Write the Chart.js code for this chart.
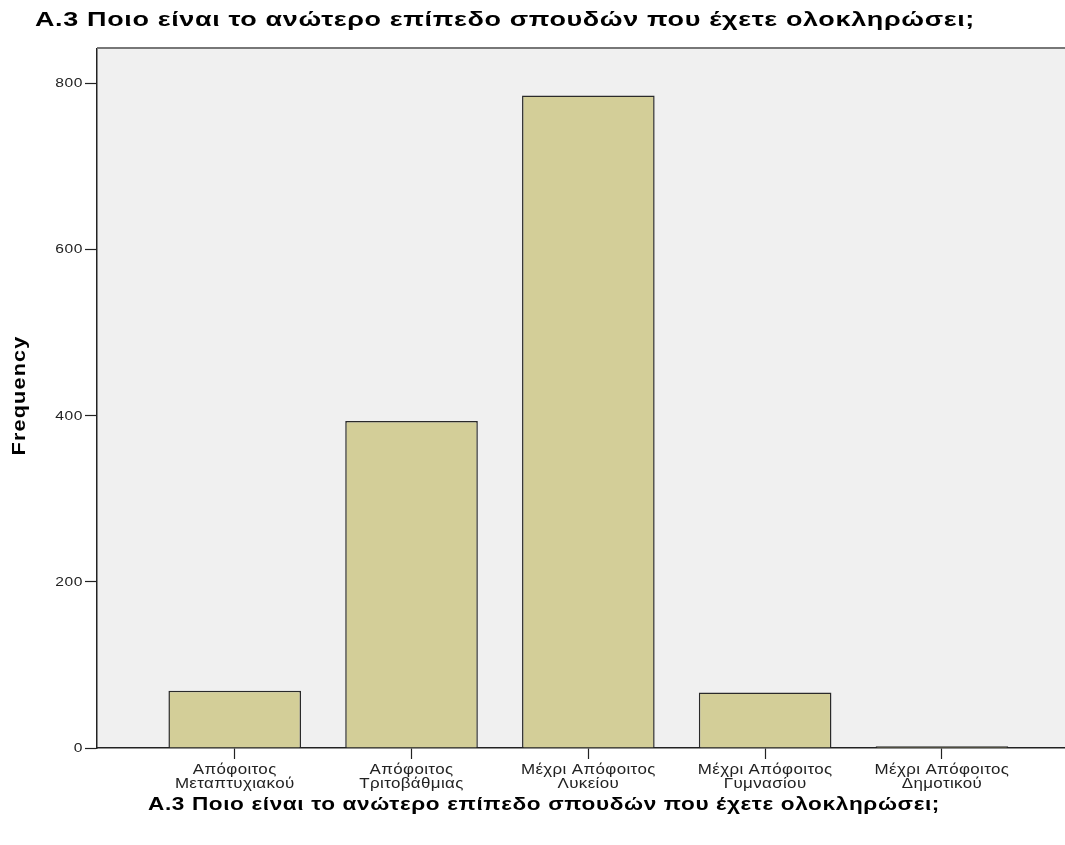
<!DOCTYPE html>
<html><head><meta charset="utf-8">
<script src="https://cdn.jsdelivr.net/npm/chart.js@4.4.0/dist/chart.umd.min.js"></script>
<style>html,body{margin:0;padding:0;background:#fff}#wrap{width:1065px;height:845px;position:relative}</style>
</head><body><div id="wrap"><canvas id="c"></canvas></div>
<script>
const chartTitle = 'Α.3 Ποιο είναι το ανώτερο επίπεδο σπουδών που έχετε ολοκληρώσει;';
const categories = [
  ['Απόφοιτος', 'Μεταπτυχιακού'],
  ['Απόφοιτος', 'Τριτοβάθμιας'],
  ['Μέχρι Απόφοιτος', 'Λυκείου'],
  ['Μέχρι Απόφοιτος', 'Γυμνασίου'],
  ['Μέχρι Απόφοιτος', 'Δημοτικού']
];
const frequencies = [69, 394, 786, 67, 2];
const yTicks = [0, 200, 400, 600, 800];
const yAxisTitle = 'Frequency';

const FONT = '"Liberation Sans", Arial, sans-serif';
Chart.defaults.font.family = FONT;

// draws text widened along its direction (the reference uses a wide-set face)
function wideText(ctx, text, x, y, align, opt) {
  ctx.save();
  ctx.font = opt.font;
  ctx.letterSpacing = (opt.ls || 0) + 'px';
  let sx = opt.sx || 1;
  if (opt.width) sx = opt.width / ctx.measureText(text).width;
  ctx.translate(x, y);
  if (opt.rot) ctx.rotate(opt.rot);
  ctx.scale(sx, 1);
  ctx.textAlign = align;
  ctx.fillText(text, 0, 0);
  ctx.restore();
}

const frame = {
  id: 'frame',
  beforeDraw(chart) {
    const {ctx, chartArea: a} = chart;
    ctx.save();
    ctx.fillStyle = '#f0f0f0';
    ctx.fillRect(a.left, a.top, a.right - a.left, a.bottom - a.top);
    ctx.restore();
  },
  afterDraw(chart) {
    const {ctx, chartArea: a} = chart;
    const xs = chart.scales.x, ys = chart.scales.y;
    ctx.save();
    ctx.strokeStyle = '#777';
    ctx.lineWidth = 2;
    ctx.beginPath();
    ctx.moveTo(a.left, a.top - 1);
    ctx.lineTo(a.right, a.top - 1);
    ctx.stroke();

    ctx.textBaseline = 'middle';
    ctx.fillStyle = '#000';
    wideText(ctx, chartTitle, 35, 20, 'left', {font: 'bold 21px ' + FONT, ls: 0.5, width: 940});
    wideText(ctx, chartTitle, 544, 805, 'center', {font: 'bold 18px ' + FONT, ls: 0.5, width: 792});
    wideText(ctx, yAxisTitle, 20, (a.top + a.bottom) / 2 - 3, 'center',
             {font: 'bold 18px ' + FONT, ls: 1, width: 120, rot: -Math.PI / 2});

    ctx.fillStyle = '#222';
    categories.forEach((lines, i) => {
      const px = xs.getPixelForValue(i + 1);
      lines.forEach((t, j) => wideText(ctx, t, px, 770 + j * 14, 'center',
                                       {font: '14px ' + FONT, ls: 0.3, sx: 1.21}));
    });
    yTicks.forEach(v => {
      wideText(ctx, String(v), a.left - 14, ys.getPixelForValue(v), 'right',
               {font: '13px ' + FONT, ls: 0.5, sx: 1.2});
    });
    ctx.restore();
  }
};

new Chart(document.getElementById('c'), {
  type: 'bar',
  data: {
    datasets: [{
      data: frequencies.map((v, i) => ({x: i + 1, y: v})),
      backgroundColor: '#d3ce98',
      borderColor: '#2a2a2a',
      borderWidth: 1.5,
      categoryPercentage: 1,
      barPercentage: 0.75
    }]
  },
  options: {
    responsive: true,
    maintainAspectRatio: false,
    animation: false,
    layout: {padding: {top: 49, left: 0, right: 0, bottom: 0}},
    plugins: {legend: {display: false}, tooltip: {enabled: false}},
    scales: {
      x: {
        type: 'linear',
        offset: false,
        min: 0.221,
        max: 5.696,
        afterBuildTicks(scale) { scale.ticks = categories.map((c, i) => ({value: i + 1})); },
        afterFit(scale) { scale.height = 97; },
        ticks: {display: false},
        grid: {offset: false, drawOnChartArea: false, tickLength: 11, tickColor: '#222', tickWidth: 1.2},
        border: {color: '#222', width: 1.5}
      },
      y: {
        min: 0,
        max: 842,
        afterBuildTicks(scale) { scale.ticks = yTicks.map(v => ({value: v})); },
        afterFit(scale) { scale.width = 97; },
        ticks: {display: false},
        grid: {drawOnChartArea: false, tickLength: 12, tickColor: '#222', tickWidth: 1.2},
        border: {color: '#222', width: 1.5}
      }
    }
  },
  plugins: [frame]
});
</script>
</body></html>
